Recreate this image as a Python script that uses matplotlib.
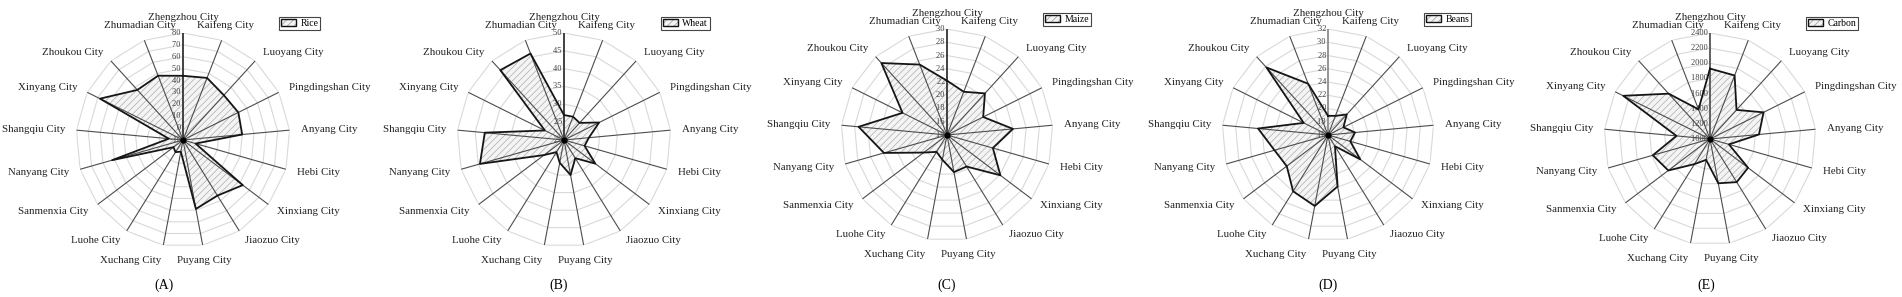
import numpy as np
import matplotlib
matplotlib.use('Agg')
import matplotlib.pyplot as plt
from matplotlib.patches import Patch

plt.rcParams['font.family'] = ['Liberation Serif', 'DejaVu Serif']
plt.rcParams['hatch.linewidth'] = 0.5

cities = ["Zhengzhou City", "Kaifeng City", "Luoyang City", "Pingdingshan City",
          "Anyang City", "Hebi City", "Xinxiang City", "Jiaozuo City", "Puyang City",
          "Xuchang City", "Luohe City", "Sanmenxia City", "Nanyang City",
          "Shangqiu City", "Xinyang City", "Zhoukou City", "Zhumadian City"]

rice = [44, 46, 41, 42, 40, 1, 53, 45, 49, 0, 2, 0, 52, 2, 68, 47, 48]
wheat = [27, 27, 26.5, 31, 27, 26, 31, 26, 30, 26.5, 24, 27, 44.5, 42.3, 26, 46.5, 46]
maize = [22.2, 21, 22.5, 20.1, 24, 21.2, 24.1, 19.6, 19.7, 17.8, 17, 18.4, 23.9, 27.4, 21.5, 28.7, 25.4]
beans = [18.9, 19.1, 20.2, 18.6, 20.1, 19.5, 22.1, 18, 23.9, 26.9, 26, 23.8, 24.4, 26.6, 20.1, 29.8, 24.3]
carbon = [1930, 1900, 1520, 1790, 1650, 1260, 1630, 1670, 1595, 1280, 1390, 1690, 1785, 1445, 2280, 1810, 1420]

rice_ticks = list(range(-10, 81, 10))
wheat_ticks = list(range(20, 51, 5))
maize_ticks = list(range(14, 31, 2))
beans_ticks = list(range(16, 33, 2))
carbon_ticks = list(range(1000, 2401, 200))

W, H = 1902, 297


def draw_radar(fig, center, radius, values, ticks, name, legend_xy, letter, letter_xy, axis_color):
    cx, cy = center
    rect = [(cx - radius) / W, (H - cy - radius) / H, 2 * radius / W, 2 * radius / H]
    ax = fig.add_axes(rect, projection='polar')
    ax.set_theta_zero_location('N')
    ax.set_theta_direction(-1)
    ax.set_ylim(ticks[0], ticks[-1])
    ax.set_axis_off()

    n = len(cities)
    theta = np.arange(n) * 2 * np.pi / n
    ring_theta = np.append(theta, theta[0])

    # polygon grid rings
    for t in ticks[1:]:
        ax.plot(ring_theta, [t] * (n + 1), color='#d9d9d9', lw=0.8, zorder=1)

    # hatched data area
    vals = np.append(values, values[0])
    ax.fill(ring_theta, vals, facecolor='#f4f4f4', edgecolor='#adadad', hatch='/////', lw=0, zorder=2)

    # spokes
    for i, th in enumerate(theta):
        if i == 0:
            ax.plot([th, th], [ticks[0], ticks[-1]], color=axis_color, lw=1.3, zorder=3)
        else:
            ax.plot([th, th], [ticks[0], ticks[-1]], color='#4d4d4d', lw=0.8, zorder=3)

    ax.plot(ring_theta, vals, color='#151515', lw=1.3, zorder=4)
    ax.plot([0], [ticks[0]], 'o', color='black', ms=3.5, zorder=5)

    # value labels along the first spoke
    for t in ticks:
        ax.text(0, t, f"{t} ", ha='right', va='center', fontsize=6, color='#404040', zorder=2.5)

    # city labels
    r_lab = ticks[-1] + 0.105 * (ticks[-1] - ticks[0])
    for i, (th, city) in enumerate(zip(theta, cities)):
        s, c = np.sin(th), np.cos(th)
        if abs(s) < 0.4:
            ha = 'center'
        elif s > 0:
            ha = 'left'
        else:
            ha = 'right'
        if i == 9:
            ha = 'right'
        if abs(s) < 0.4:
            va = 'bottom' if c > 0 else 'top'
        else:
            va = 'center'
        ax.text(th, r_lab, city, ha=ha, va=va, fontsize=7.8, color='#222222')

    # legend
    hatch_patch = Patch(facecolor='#f4f4f4', edgecolor='#999999', hatch='/////', lw=0)
    edge_patch = Patch(facecolor='none', edgecolor='#111111', lw=1.0)
    lx, ly = legend_xy
    leg = fig.legend(handles=[(hatch_patch, edge_patch)], labels=[name], loc='upper left',
                     bbox_to_anchor=(lx / W, 1 - ly / H), fancybox=False, edgecolor='#444444',
                     framealpha=1, fontsize=7, borderpad=0.2, handlelength=1.5, handleheight=0.8,
                     handletextpad=0.5, borderaxespad=0)
    leg.get_frame().set_linewidth(0.8)

    fig.text(letter_xy[0] / W, 1 - letter_xy[1] / H, letter, ha='center', va='center', fontsize=10)


fig = plt.figure(figsize=(W / 100, H / 100), dpi=100)

draw_radar(fig, (183, 140), 107, rice, rice_ticks, "Rice", (279, 17), "(A)", (164, 285), '#333333')
draw_radar(fig, (564, 140), 107, wheat, wheat_ticks, "Wheat", (661, 17), "(B)", (559, 285), '#333333')
draw_radar(fig, (947, 135), 106, maize, maize_ticks, "Maize", (1043, 13), "(C)", (947, 285), '#333333')
draw_radar(fig, (1328, 135), 106, beans, beans_ticks, "Beans", (1424, 13), "(D)", (1328, 285), '#8c8c8c')
draw_radar(fig, (1710, 139), 106, carbon, carbon_ticks, "Carbon", (1806, 17), "(E)", (1706, 285), '#555555')

fig.savefig("out.png", dpi=100, facecolor='white')
